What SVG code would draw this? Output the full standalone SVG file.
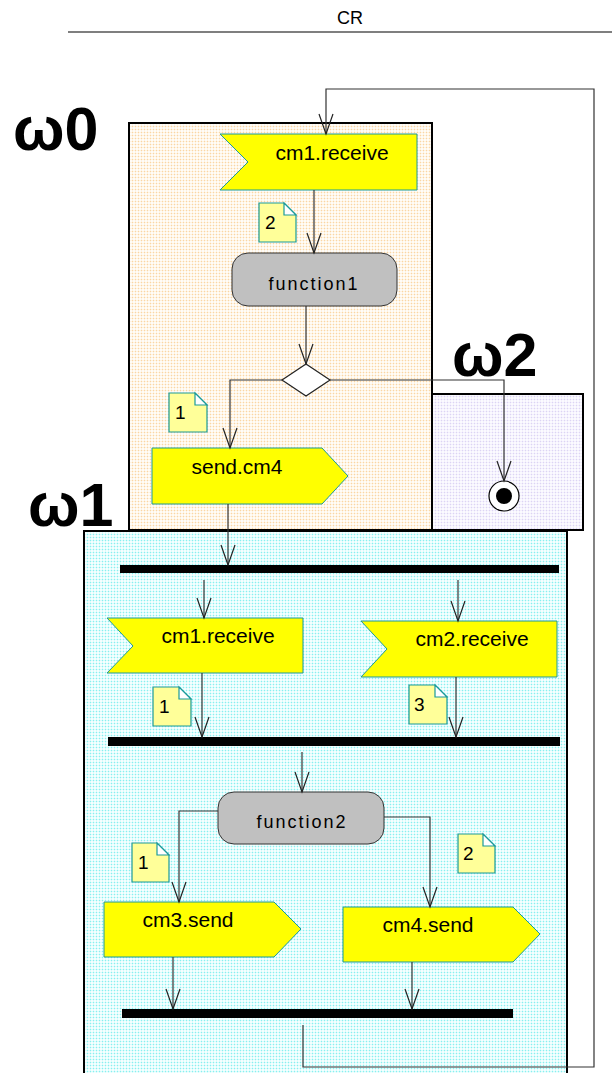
<svg xmlns="http://www.w3.org/2000/svg" width="612" height="1073" viewBox="0 0 612 1073">
<style>
text{font-family:"Liberation Sans",Arial,sans-serif;fill:#000}
.box{stroke:#000;stroke-width:2}
.sig{fill:#ffff00;stroke:#1a9a9a;stroke-width:1}
.act{fill:#c0c0c0;stroke:#333;stroke-width:1}
.note{fill:#ffff99;stroke:#1a9a9a;stroke-width:1.2}
.fold{fill:#fff;stroke:#1a9a9a;stroke-width:1.2}
.bar{fill:#000}
.lbl{font-size:21px}
.fn{font-size:18px;letter-spacing:2px}
.nt{font-size:19px}
.om{font-size:61px;font-weight:bold}
.conn path{fill:none;stroke:#333;stroke-width:1.2}
</style>
<defs>
<pattern id="pOr" width="3" height="3" patternUnits="userSpaceOnUse"><rect width="3" height="3" fill="#fffcf7"/><rect width="1" height="1" fill="#fad6a4"/><rect x="1.5" y="0" width="1" height="1" fill="#fde8cc"/><rect x="0" y="1.5" width="1" height="1" fill="#fde8cc"/></pattern>
<pattern id="pCy" width="3" height="3" patternUnits="userSpaceOnUse"><rect width="3" height="3" fill="#f4ffff"/><rect width="1" height="1" fill="#88f0f0"/><rect x="1.5" y="0" width="1" height="1" fill="#c0f8f8"/><rect x="0" y="1.5" width="1" height="1" fill="#c0f8f8"/></pattern>
<pattern id="pLv" width="3" height="3" patternUnits="userSpaceOnUse"><rect width="3" height="3" fill="#fbfaff"/><rect width="1" height="1" fill="#dcd4f4"/><rect x="1.5" y="0" width="1" height="1" fill="#ebe6fa"/><rect x="0" y="1.5" width="1" height="1" fill="#ebe6fa"/></pattern>
<marker id="arr" markerUnits="userSpaceOnUse" markerWidth="24" markerHeight="18" refX="21" refY="8" orient="auto"><path d="M1,1 L21,8 L1,15" fill="none" stroke="#222" stroke-width="1.2"/></marker>
</defs>

<g id="header">
<text x="350" y="24" font-size="18" text-anchor="middle">CR</text>
<line x1="68" y1="32" x2="612" y2="32" stroke="#000" stroke-width="1.2"/>
</g>

<g id="w0">
<rect class="box" x="129" y="123" width="303" height="407" fill="url(#pOr)"/>
<text class="om" x="13" y="150">ω0</text>
</g>
<g id="w2">
<rect class="box" x="432" y="394" width="151" height="136" fill="url(#pLv)"/>
<text class="om" x="452" y="376">ω2</text>
</g>
<g id="w1">
<rect class="box" x="84" y="531" width="483" height="560" fill="url(#pCy)"/>
<text class="om" x="28" y="526">ω1</text>
</g>

<g id="cm1receive_top">
<path class="sig" d="M220,134 H417 V190 H220 L248,162 Z"/>
<text class="lbl" x="332" y="160" text-anchor="middle">cm1.receive</text>
</g>
<g id="note2_top">
<path class="note" d="M259,203 H284 L296,215 V242 H259 Z"/>
<path class="fold" d="M284,203 V215 H296 Z"/>
<text class="nt" x="265" y="229">2</text>
</g>
<g id="function1">
<rect class="act" x="232" y="253" width="165" height="53" rx="16"/>
<text class="fn" x="314" y="290" text-anchor="middle">function1</text>
</g>
<g id="decision">
<path d="M306,364 L330,380 L306,396 L282,380 Z" fill="#fff" stroke="#222" stroke-width="1.2"/>
</g>
<g id="note1_top">
<path class="note" d="M169,393 H195 L207,405 V432 H169 Z"/>
<path class="fold" d="M195,393 V405 H207 Z"/>
<text class="nt" x="175" y="419">1</text>
</g>
<g id="sendcm4">
<path class="sig" d="M152,448 H322 L348,476 L322,504 H152 Z"/>
<text class="lbl" x="237" y="474" text-anchor="middle">send.cm4</text>
</g>
<g id="final">
<circle cx="504" cy="496" r="15" fill="#fff" stroke="#000" stroke-width="1.2"/>
<circle cx="504" cy="496" r="8" fill="#000"/>
</g>

<g id="fork1"><rect class="bar" x="120" y="565" width="439" height="8"/></g>
<g id="cm1receive">
<path class="sig" d="M107,618 H303 V673 H107 L133,646 Z"/>
<text class="lbl" x="218" y="643" text-anchor="middle">cm1.receive</text>
</g>
<g id="cm2receive">
<path class="sig" d="M361,621 H557 V677 H361 L387,649 Z"/>
<text class="lbl" x="472" y="646" text-anchor="middle">cm2.receive</text>
</g>
<g id="note1_mid">
<path class="note" d="M153,687 H179 L191,699 V726 H153 Z"/>
<path class="fold" d="M179,687 V699 H191 Z"/>
<text class="nt" x="159" y="713">1</text>
</g>
<g id="note3">
<path class="note" d="M409,685 H435 L447,697 V724 H409 Z"/>
<path class="fold" d="M435,685 V697 H447 Z"/>
<text class="nt" x="414" y="711">3</text>
</g>
<g id="join1"><rect class="bar" x="108" y="737" width="452" height="9"/></g>
<g id="function2">
<rect class="act" x="218" y="792" width="166" height="52" rx="16"/>
<text class="fn" x="302" y="828" text-anchor="middle">function2</text>
</g>
<g id="note1_bot">
<path class="note" d="M132,843 H157 L169,855 V882 H132 Z"/>
<path class="fold" d="M157,843 V855 H169 Z"/>
<text class="nt" x="138" y="869">1</text>
</g>
<g id="note2_bot">
<path class="note" d="M458,834 H483 L495,846 V873 H458 Z"/>
<path class="fold" d="M483,834 V846 H495 Z"/>
<text class="nt" x="463" y="860">2</text>
</g>
<g id="cm3send">
<path class="sig" d="M104,902 H274 L301,929 L274,957 H104 Z"/>
<text class="lbl" x="188" y="927" text-anchor="middle">cm3.send</text>
</g>
<g id="cm4send">
<path class="sig" d="M343,907 H513 L540,934 L513,962 H343 Z"/>
<text class="lbl" x="428" y="932" text-anchor="middle">cm4.send</text>
</g>
<g id="join2"><rect class="bar" x="122" y="1009" width="391" height="9"/></g>

<g id="connectors" class="conn">
<path d="M303,1025 V1067 H594 V89 H326 V134" marker-end="url(#arr)"/>
<path d="M314,190 V253" marker-end="url(#arr)"/>
<path d="M306,306 V364" marker-end="url(#arr)"/>
<path d="M282,380 H230 V448" marker-end="url(#arr)"/>
<path d="M330,380 H504 V481" marker-end="url(#arr)"/>
<path d="M228,504 V565" marker-end="url(#arr)"/>
<path d="M204,580 V618" marker-end="url(#arr)"/>
<path d="M458,580 V621" marker-end="url(#arr)"/>
<path d="M202,673 V737" marker-end="url(#arr)"/>
<path d="M456,677 V737" marker-end="url(#arr)"/>
<path d="M302,752 V792" marker-end="url(#arr)"/>
<path d="M218,811 H179 V902" marker-end="url(#arr)"/>
<path d="M384,817 H430 V907" marker-end="url(#arr)"/>
<path d="M173,957 V1009" marker-end="url(#arr)"/>
<path d="M412,962 V1009" marker-end="url(#arr)"/>
</g>
</svg>
